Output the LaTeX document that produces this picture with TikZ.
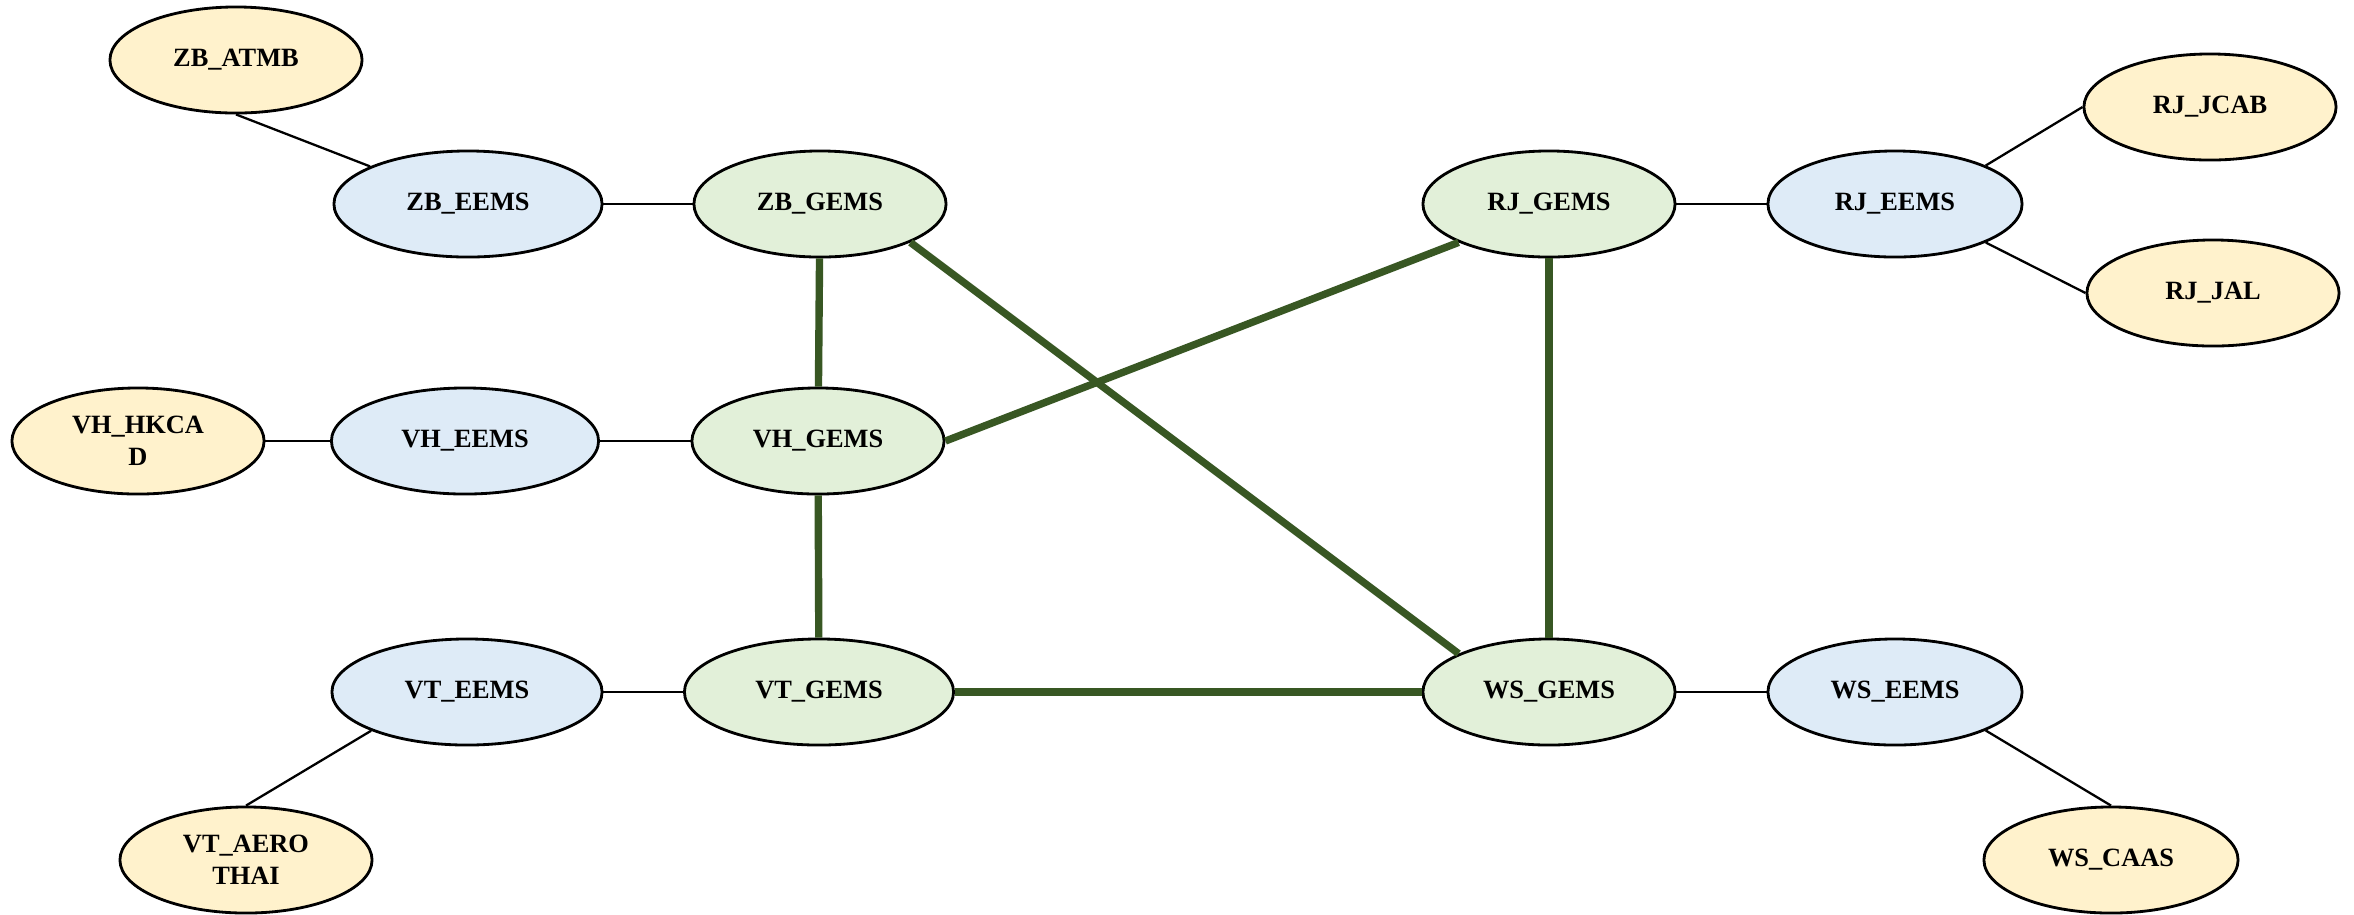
\documentclass[tikz,border=0pt]{standalone}
\usepackage{fontspec}
\setmainfont{Liberation Serif}
\usetikzlibrary{shapes.geometric}
\definecolor{extfill}{HTML}{FFF2CC}
\definecolor{eemsfill}{HTML}{DEEBF7}
\definecolor{gemsfill}{HTML}{E2F0D9}
\definecolor{trunk}{HTML}{385723}
\begin{document}
\begin{tikzpicture}[x=0.01cm,y=-0.01cm,
  site/.style={ellipse,draw=black,line width=0.8pt,inner sep=0pt,
    minimum height=1.06cm,minimum width=2.52cm,align=center,
    font=\fontsize{7.5pt}{9pt}\selectfont\bfseries},
  ext/.style={site,fill=extfill},
  eems/.style={site,fill=eemsfill},
  gems/.style={site,fill=gemsfill},
  link/.style={draw=black,line width=0.65pt},
  backbone/.style={draw=trunk,line width=2.1pt}]
\useasboundingbox (0,0) rectangle (2354,914);

% external authorities
\node[ext] (zbatmb) at (236,60) {ZB\_ATMB};
\node[ext] (rjjcab) at (2210,107) {RJ\_JCAB};
\node[ext] (rjjal) at (2213,293) {RJ\_JAL};
\node[ext] (vhhkcad) at (138,441) {VH\_HKCA\\D};
\node[ext] (vtaero) at (246,860) {VT\_AERO\\THAI};
\node[ext,minimum width=2.54cm] (wscaas) at (2111,860) {WS\_CAAS};

% EEMS nodes
\node[eems,minimum width=2.68cm] (zbe) at (468,204) {ZB\_EEMS};
\node[eems,minimum width=2.67cm] (vhe) at (465,441) {VH\_EEMS};
\node[eems,minimum width=2.70cm] (vte) at (467,692) {VT\_EEMS};
\node[eems,minimum width=2.54cm] (rje) at (1895,204) {RJ\_EEMS};
\node[eems,minimum width=2.54cm] (wse) at (1895,692) {WS\_EEMS};

% GEMS nodes
\node[gems] (zbg) at (820,204) {ZB\_GEMS};
\node[gems] (vhg) at (818,441) {VH\_GEMS};
\node[gems,minimum width=2.69cm] (vtg) at (819,692) {VT\_GEMS};
\node[gems] (rjg) at (1549,204) {RJ\_GEMS};
\node[gems] (wsg) at (1549,692) {WS\_GEMS};

% local links
\draw[link] (zbatmb.south) -- (zbe.159);
\draw[link] (zbe) -- (zbg);
\draw[link] (vhhkcad) -- (vhe);
\draw[link] (vhe) -- (vhg);
\draw[link] (vte) -- (vtg);
\draw[link] (vtaero.north) -- (vte.202);
\draw[link] (rjg) -- (rje);
\draw[link] (rje.23) -- (rjjcab.west);
\draw[link] (rje.337) -- (rjjal.west);
\draw[link] (wsg) -- (wse);
\draw[link] (wse.337) -- (wscaas.north);

% GEMS backbone
\draw[backbone] (zbg) -- (vhg);
\draw[backbone] (vhg) -- (vtg);
\draw[backbone] (zbg.337) -- (wsg.157);
\draw[backbone] (vhg.east) -- (rjg.203);
\draw[backbone] (vtg) -- (wsg);
\draw[backbone] (rjg) -- (wsg);
\end{tikzpicture}
\end{document}
